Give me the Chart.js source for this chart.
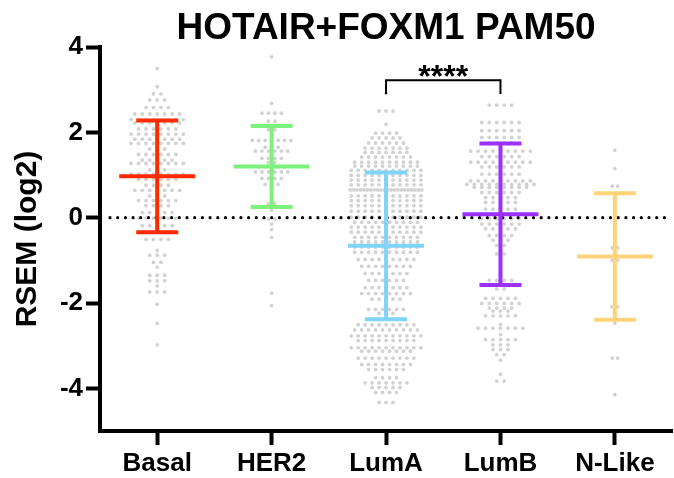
<!DOCTYPE html>
<html>
<head>
<meta charset="utf-8">
<script src="https://cdn.jsdelivr.net/npm/chart.js@4.4.1/dist/chart.umd.min.js"></script>
<style>
    html, body { margin: 0; padding: 0; background: #fff; }
</style>
</head>
<body>
<canvas id="pam50Chart" width="674" height="478"></canvas>
<script>
const groups = ['Basal', 'HER2', 'LumA', 'LumB', 'N-Like'];
const groupColors = ['#ff2a00', '#7cf27c', '#7fd4f8', '#9b30ff', '#ffd37a'];
const means = [0.97, 1.20, -0.66, 0.08, -0.91];
const sds = [1.31, 0.95, 1.72, 1.66, 1.48];
const yTicks = [-4, -2, 0, 2, 4];
const starText = '****';
const bracketLevel = 3.22;
const bracketDrop = 2.92;

// swarm rows: row level (log2 RSEM) and number of samples in it
const basalLevels = [3.50, 3.07, 2.90, 2.76, 2.58, 2.43, 2.30, 2.22, 2.08, 1.96, 1.84, 1.74, 1.61, 1.48, 1.35, 1.27, 1.12, 1.02, 0.90, 0.76,
    0.64, 0.51, 0.40, 0.28, 0.12, -0.01, -0.19, -0.34, -0.51, -0.77, -0.88, -1.05, -1.16, -1.35, -1.48, -1.60, -1.74, -2.03, -2.48, -2.98];
const basalCounts = [1, 1, 2, 3, 4, 7, 8, 7, 6, 8, 7, 8, 3, 6, 5, 8, 3, 8, 6, 4,
    7, 3, 6, 4, 5, 6, 5, 5, 4, 1, 3, 2, 1, 3, 3, 1, 3, 1, 1, 1];

const her2Levels = [3.77, 2.68, 2.45, 2.26, 2.06, 1.95, 1.81, 1.65, 1.56, 1.39, 1.29, 1.19, 1.07, 0.92, 0.78, 0.67, 0.47, 0.32, 0.18, -0.03,
    -0.15, -0.28, -0.46, -1.77, -2.06];
const her2Counts = [1, 1, 4, 2, 2, 1, 7, 3, 6, 4, 2, 5, 6, 4, 3, 1, 1, 2, 1, 2,
    1, 1, 1, 1, 1];

const lumALevels = [2.91, 2.50, 2.19, 1.98, 1.87, 1.75, 1.63, 1.53, 1.42, 1.30, 1.21, 1.11, 0.99, 0.88, 0.77, 0.65, 0.51, 0.40, 0.28, 0.15,
    0.01, -0.11, -0.22, -0.34, -0.46, -0.57, -0.69, -0.81, -0.98, -1.14, -1.31, -1.47, -1.64, -1.78, -1.91, -2.15, -2.24, -2.51, -2.63, -2.77,
    -2.88, -3.05, -3.13, -3.29, -3.44, -3.56, -3.75, -3.87, -3.98, -4.10, -4.33];
const lumACounts = [1, 3, 1, 4, 5, 6, 7, 7, 8, 10, 10, 11, 11, 11, 11, 22, 11, 11, 11, 11,
    11, 10, 11, 11, 10, 10, 10, 10, 9, 8, 7, 6, 7, 8, 5, 6, 3, 9, 10, 11,
    9, 11, 8, 9, 8, 6, 4, 7, 5, 4, 3];

const lumBLevels = [2.64, 2.23, 2.04, 1.88, 1.75, 1.56, 1.43, 1.30, 1.19, 1.02, 0.86, 0.78, 0.71, 0.59, 0.47, 0.36, 0.20, 0.09, -0.02, -0.15,
    -0.26, -0.42, -0.53, -0.65, -0.85, -1.22, -1.35, -1.47, -1.67, -1.89, -2.01, -2.12, -2.19, -2.30, -2.50, -2.59, -2.74, -2.86, -2.98, -3.09,
    -3.21, -3.34, -3.67, -3.83];
const lumBCounts = [4, 6, 6, 6, 4, 9, 6, 9, 6, 6, 9, 10, 8, 6, 5, 5, 5, 5, 6, 6,
    5, 4, 3, 2, 2, 1, 1, 4, 2, 5, 6, 4, 3, 5, 1, 7, 1, 5, 3, 3,
    2, 1, 1, 2];

const nLikeLevels = [1.58, 1.15, 0.74, 0.46, -0.12, -0.34, -0.46, -0.57, -0.71, -0.85, -1.00, -1.12, -2.09, -2.47, -3.29, -4.15];
const nLikeCounts = [1, 1, 2, 1, 1, 1, 1, 1, 2, 1, 2, 1, 2, 1, 2, 1];

const fontFamily = "'Liberation Sans', Arial, Helvetica, sans-serif";
const catPx = 115; // pixel distance between two categories

function swarm(index, levels, counts, gapPx, maxPx) {
    const points = [];
    levels.forEach((level, r) => {
        const n = counts[r];
        const gap = n > 1 ? Math.min(gapPx, maxPx / (n - 1)) : 0;
        for (let i = 0; i < n; i++) {
            points.push({x: index + (i - (n - 1) / 2) * gap / catPx, y: level});
        }
    });
    return points;
}

const dots = [
    ...swarm(0, basalLevels, basalCounts, 7.5, 72),
    ...swarm(1, her2Levels, her2Counts, 6.5, 72),
    ...swarm(2, lumALevels, lumACounts, 7, 72),
    ...swarm(3, lumBLevels, lumBCounts, 7.5, 72),
    ...swarm(4, nLikeLevels, nLikeCounts, 5.5, 72)
];

const overlay = {
    id: 'overlay',
    afterDatasetsDraw(chart) {
        const {ctx, chartArea, scales: {x, y}} = chart;
        ctx.save();

        // dotted line at zero
        const y0 = y.getPixelForValue(0);
        ctx.strokeStyle = '#000';
        ctx.lineWidth = 3.2;
        ctx.lineCap = 'round';
        ctx.setLineDash([0, 7.7]);
        ctx.beginPath();
        ctx.moveTo(chartArea.left + 10, y0);
        ctx.lineTo(chartArea.right, y0);
        ctx.stroke();
        ctx.setLineDash([]);

        // mean +/- SD
        ctx.lineCap = 'butt';
        ctx.lineWidth = 4;
        groups.forEach((g, i) => {
            const cx = x.getPixelForValue(i);
            const m = y.getPixelForValue(means[i]);
            const hi = y.getPixelForValue(means[i] + sds[i]);
            const lo = y.getPixelForValue(means[i] - sds[i]);
            ctx.strokeStyle = groupColors[i];
            ctx.beginPath();
            ctx.moveTo(cx, hi);
            ctx.lineTo(cx, lo);
            ctx.moveTo(cx - 38, m);
            ctx.lineTo(cx + 38, m);
            ctx.moveTo(cx - 21, hi);
            ctx.lineTo(cx + 21, hi);
            ctx.moveTo(cx - 21, lo);
            ctx.lineTo(cx + 21, lo);
            ctx.stroke();
        });

        // LumA vs LumB bracket
        const bx1 = x.getPixelForValue(2);
        const bx2 = x.getPixelForValue(3);
        const by = y.getPixelForValue(bracketLevel);
        const byDrop = y.getPixelForValue(bracketDrop);
        ctx.strokeStyle = '#000';
        ctx.lineWidth = 2;
        ctx.lineCap = 'square';
        ctx.beginPath();
        ctx.moveTo(bx1, byDrop);
        ctx.lineTo(bx1, by);
        ctx.lineTo(bx2, by);
        ctx.lineTo(bx2, byDrop);
        ctx.stroke();

        ctx.fillStyle = '#000';
        ctx.font = 'bold 32px ' + fontFamily;
        ctx.textAlign = 'center';
        ctx.textBaseline = 'alphabetic';
        ctx.fillText(starText, (bx1 + bx2) / 2, by + 7);
        ctx.restore();
    }
};

document.addEventListener('DOMContentLoaded', () => {
    const ctx = document.getElementById('pam50Chart').getContext('2d');
    new Chart(ctx, {
        type: 'scatter',
        data: {
            datasets: [{
                label: 'samples',
                data: dots,
                backgroundColor: '#d2d2d2',
                borderWidth: 0,
                pointRadius: 1.9,
                pointHoverRadius: 1.9
            }]
        },
        options: {
            responsive: false,
            devicePixelRatio: 1,
            animation: false,
            layout: {padding: 0},
            plugins: {
                legend: {display: false},
                tooltip: {enabled: false},
                title: {
                    display: true,
                    text: 'HOTAIR+FOXM1 PAM50',
                    color: '#000',
                    fullSize: false,
                    font: {family: fontFamily, size: 37, weight: 'bold', lineHeight: 1},
                    padding: {top: 10, bottom: 0}
                }
            },
            scales: {
                x: {
                    type: 'linear',
                    min: -0.5,
                    max: 4.5,
                    afterBuildTicks: scale => {
                        scale.ticks = groups.map((g, i) => ({value: i}));
                    },
                    afterFit: scale => {
                        scale.height = 47;
                    },
                    ticks: {
                        callback: value => groups[value],
                        color: '#000',
                        padding: 3,
                        autoSkip: false,
                        maxRotation: 0,
                        font: {family: fontFamily, size: 26, weight: 'bold'}
                    },
                    grid: {
                        display: true,
                        drawOnChartArea: false,
                        drawTicks: true,
                        tickLength: 14,
                        tickWidth: 4,
                        tickColor: '#000'
                    },
                    border: {display: true, width: 4, color: '#000'}
                },
                y: {
                    min: -5,
                    max: 4,
                    afterBuildTicks: scale => {
                        scale.ticks = yTicks.map(v => ({value: v}));
                    },
                    afterFit: scale => {
                        scale.width = 100;
                    },
                    ticks: {
                        color: '#000',
                        padding: 3,
                        font: {family: fontFamily, size: 26, weight: 'bold'}
                    },
                    grid: {
                        display: true,
                        drawOnChartArea: false,
                        drawTicks: true,
                        tickLength: 14,
                        tickWidth: 4,
                        tickColor: '#000'
                    },
                    border: {display: true, width: 4, color: '#000'},
                    title: {
                        display: true,
                        text: 'RSEM (log2)',
                        color: '#000',
                        font: {family: fontFamily, size: 30, weight: 'bold', lineHeight: 1},
                        padding: {top: 13, bottom: 0}
                    }
                }
            }
        },
        plugins: [overlay]
    });
});
</script>
</body>
</html>
